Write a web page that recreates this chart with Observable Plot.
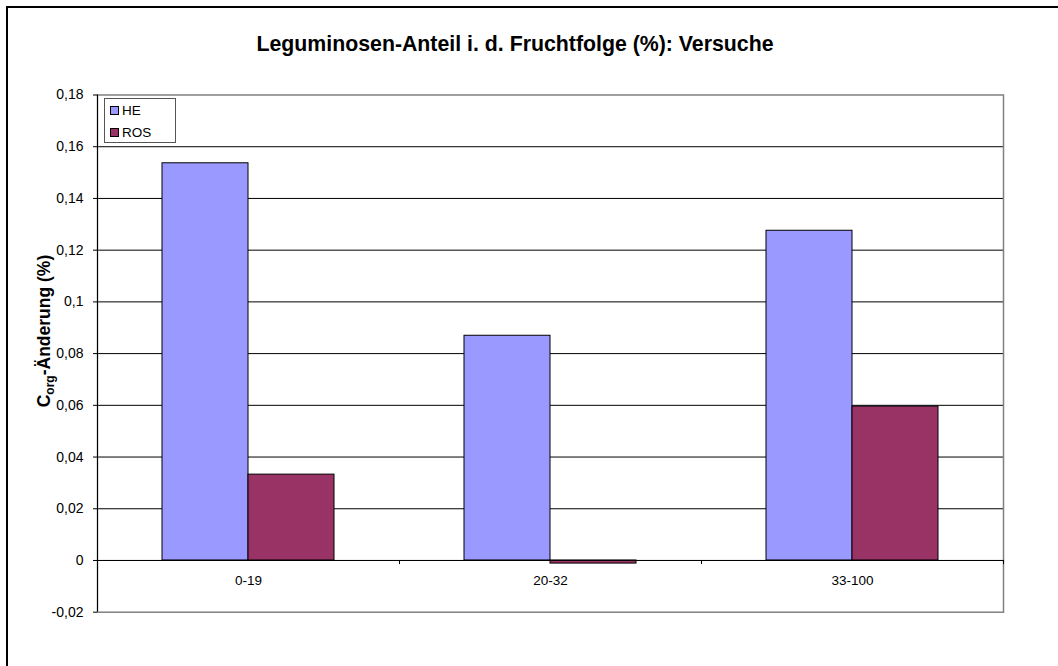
<!DOCTYPE html>
<html><head><meta charset="utf-8">
<script src="https://cdn.jsdelivr.net/npm/d3@7"></script>
<script src="https://cdn.jsdelivr.net/npm/@observablehq/plot@0.6"></script>
<style>
html,body{margin:0;padding:0;background:#fff;overflow:hidden;}
#wrap{position:relative;width:1058px;height:666px;font-family:"Liberation Sans",Arial,sans-serif;color:#000;overflow:hidden;}
#outer{position:absolute;left:6px;top:6px;width:1200px;height:800px;border-left:2px solid #000;border-top:2px solid #000;}
#plot{position:absolute;left:0;top:0;}
#title{position:absolute;left:0;top:34px;width:1030px;text-align:center;font-weight:bold;font-size:21.3px;line-height:21px;white-space:nowrap;}
#ylab{position:absolute;left:44px;top:331px;transform-origin:0 0;transform:rotate(-90deg) translate(-50%,-50%);font-weight:bold;font-size:17.5px;white-space:nowrap;line-height:22px;}
#ylab sub{font-size:12px;vertical-align:-4px;line-height:0;}
#legend{position:absolute;left:104px;top:98px;width:70px;height:43px;border:1px solid #555;background:#fff;font-size:13.5px;}
.item{position:absolute;left:5px;height:13px;line-height:13px;white-space:nowrap;}
.sw{display:inline-block;width:7px;height:7px;border:1px solid #000;margin-right:3px;vertical-align:0px;}
</style>
</head><body>
<div id="wrap">
  <div id="outer"></div>
  <div id="plot"></div>
  <div id="title"></div>
  <div id="ylab"></div>
  <div id="legend"></div>
</div>
<script>
const titleText = "Leguminosen-Anteil i. d. Fruchtfolge (%): Versuche";
const categories = ["0-19", "20-32", "33-100"];
const seriesNames = ["HE", "ROS"];
const seriesColors = ["#9999FF", "#993366"];
const heValues = [0.1536, 0.0869, 0.1275];
const rosValues = [0.0332, -0.0012, 0.0595];
const yTicks = [-0.02, 0, 0.02, 0.04, 0.06, 0.08, 0.1, 0.12, 0.14, 0.16, 0.18];
const yTickLabels = ["-0,02", "0", "0,02", "0,04", "0,06", "0,08", "0,1", "0,12", "0,14", "0,16", "0,18"];

const rows = categories.map((c, i) => ({cat: c, HE: heValues[i], ROS: rosValues[i]}));
const gridValues = yTicks.filter(v => v > yTicks[0] && v < yTicks[yTicks.length - 1]);

const chart = Plot.plot({
  width: 1058, height: 666,
  marginLeft: 97, marginRight: 55, marginTop: 94.5, marginBottom: 54.3,
  style: {fontFamily: "'Liberation Sans', Arial, sans-serif", fontSize: "14px", color: "#000", background: "transparent", overflow: "visible"},
  x: {domain: categories, padding: 0, axis: null},
  y: {domain: [yTicks[0], yTicks[yTicks.length - 1]], axis: null},
  marks: [
    Plot.ruleY(gridValues, {stroke: "#000", strokeWidth: 1}),
    Plot.frame({stroke: "#808080", strokeWidth: 1.5}),
    Plot.barY(rows, {x: "cat", y: "HE", fill: seriesColors[0], stroke: "#000", strokeWidth: 1, insetLeft: 108, insetRight: 108, dx: -43}),
    Plot.barY(rows, {x: "cat", y: "ROS", fill: seriesColors[1], stroke: "#000", strokeWidth: 1, insetLeft: 108, insetRight: 108, dx: 43}),
    Plot.ruleY([0], {stroke: "#000", strokeWidth: 1}),
    Plot.ruleX([categories[0]], {x: d => d, dx: -151, stroke: "#000", strokeWidth: 1}),
    Plot.ruleX(categories, {x: d => d, dx: 151, y1: 0, y2: -0.0016, stroke: "#000", strokeWidth: 1}),
    Plot.axisY(yTicks, {tickFormat: d => yTickLabels[yTicks.indexOf(d)], tickSize: 4, tickPadding: 10, fontSize: 14, stroke: "#000"}),
    Plot.text(categories, {x: d => d, y: 0, dy: 20.5, text: d => d, fontSize: 13.5, fill: "#000", lineAnchor: "middle"})
  ]
});
document.getElementById("plot").appendChild(chart);
document.getElementById("title").textContent = titleText;
document.getElementById("ylab").innerHTML = "C<sub>org</sub>-Änderung (%)";
const leg = document.getElementById("legend");
seriesNames.forEach((n, i) => {
  const it = document.createElement("div");
  it.className = "item";
  it.style.top = (5 + i * 22) + "px";
  it.innerHTML = `<span class="sw" style="background:${seriesColors[i]}"></span>${n}`;
  leg.appendChild(it);
});
</script>
</body></html>
